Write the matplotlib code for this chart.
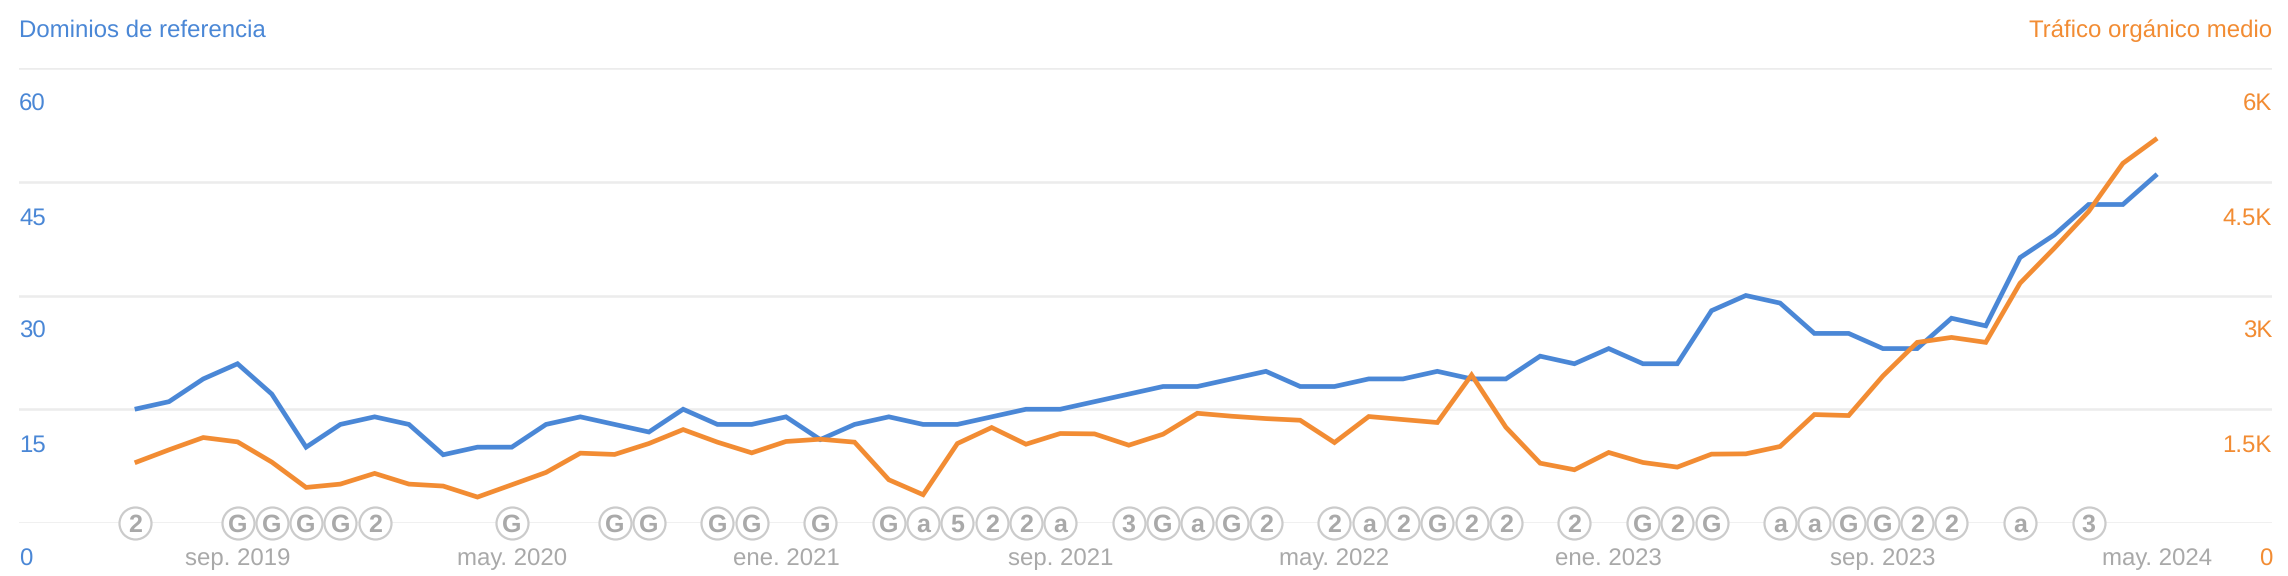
import matplotlib
matplotlib.use("Agg")
import matplotlib.pyplot as plt
from matplotlib.transforms import ScaledTranslation

plt.rcParams['font.family'] = ['Liberation Sans', 'DejaVu Sans']
plt.rcParams['text.hinting'] = 'none'
plt.rcParams['text.hinting_factor'] = 1

months = list(range(60))
referring_domains = [15, 16, 19, 21, 17, 10, 13, 14, 13, 9, 10, 10, 13, 14, 13, 12, 15, 13, 13, 14,
                     11, 13, 14, 13, 13, 14, 15, 15, 16, 17, 18, 18, 19, 20, 18, 18, 19, 19, 20, 19,
                     19, 22, 21, 23, 21, 21, 28, 30, 29, 25, 25, 23, 23, 27, 26, 35, 38, 42, 42, 46]
organic_traffic = [794, 965, 1127, 1070, 803, 469, 513, 654, 513, 487, 342, 504, 667, 921, 904, 1048, 1232, 1066, 925, 1075,
                   1105, 1066, 570, 373, 1048, 1259, 1039, 1180, 1175, 1026, 1171, 1447, 1408, 1377, 1355, 1061, 1404, 1364, 1325, 1952,
                   1263, 789, 702, 930, 798, 737, 908, 912, 1009, 1430, 1417, 1939, 2382, 2447, 2382, 3162, 3624, 4107, 4743, 5073]
left_ticks = [0, 15, 30, 45, 60]
left_labels = ['0', '15', '30', '45', '60']
right_ticks = [0, 1500, 3000, 4500, 6000]
right_labels = ['0', '1.5K', '3K', '4.5K', '6K']
x_ticks = [3, 11, 19, 27, 35, 43, 51, 59]
x_labels = ['sep. 2019', 'may. 2020', 'ene. 2021', 'sep. 2021', 'may. 2022', 'ene. 2023', 'sep. 2023', 'may. 2024']
marker_months = [0, 3, 4, 5, 6, 7, 11, 14, 15, 17, 18, 20, 22, 23, 24, 25, 26, 27, 29, 30, 31, 32, 33,
                 35, 36, 37, 38, 39, 40, 42, 44, 45, 46, 48, 49, 50, 51, 52, 53, 55, 57]
marker_labels = ['2', 'G', 'G', 'G', 'G', '2', 'G', 'G', 'G', 'G', 'G', 'G', 'G', 'a', '5', '2', '2', 'a', '3', 'G', 'a', 'G', '2',
                 '2', 'a', '2', 'G', '2', '2', '2', 'G', '2', 'G', 'a', 'a', 'G', 'G', '2', '2', 'a', '3']

BLUE = '#4a87d6'
ORANGE = '#f28c33'
GREY = '#a9a9a9'
GRID = '#ececec'
W, H = 2288, 576

fig = plt.figure(figsize=(W / 100, H / 100), dpi=100)
ax = fig.add_axes([19 / W, 1 - 523 / H, (2272 - 19) / W, (523 - 68) / H])
ax2 = ax.twinx()
ax.set_zorder(1)
ax2.set_zorder(2)
ax2.patch.set_visible(False)

ax.set_xlim(-3.375, 62.35)
ax.set_ylim(0, 60)
ax2.set_ylim(0, 6000)

for a in (ax, ax2):
    for s in a.spines.values():
        s.set_visible(False)

ax.set_yticks(left_ticks, left_labels)
ax2.set_yticks(right_ticks, right_labels)
ax.set_xticks(x_ticks, x_labels)
ax.tick_params(axis='y', length=0, pad=0, labelsize=17.3, labelcolor=BLUE)
ax2.tick_params(axis='y', length=0, pad=0, labelsize=17.3, labelcolor=ORANGE)
ax.tick_params(axis='x', length=0, pad=18, labelsize=17.3, labelcolor=GREY)
ax.grid(axis='y', color=GRID, linewidth=1.8)
ax.set_axisbelow(True)

down = ScaledTranslation(0, -34 / 100, fig.dpi_scale_trans)
for lab in ax.get_yticklabels():
    lab.set_ha('left')
    lab.set_transform(lab.get_transform() + down)
for lab in ax2.get_yticklabels():
    lab.set_ha('right')
    lab.set_transform(lab.get_transform() + down)

ax.plot(months, referring_domains, color=BLUE, linewidth=3.4, solid_joinstyle='miter', solid_capstyle='butt', zorder=3)
ax2.plot(months, organic_traffic, color=ORANGE, linewidth=3.4, solid_joinstyle='miter', solid_capstyle='butt', zorder=3)

ax2.scatter(marker_months, [0] * len(marker_months), s=530, facecolor='white', edgecolor='#cbcbcb',
            linewidth=1.6, clip_on=False, zorder=4)
for m, t in zip(marker_months, marker_labels):
    ax2.text(m, 0, t, ha='center', va='center_baseline', fontsize=18, fontweight='bold', color=GREY, zorder=5, clip_on=False)

fig.text(19 / W, 1 - 31 / H, 'Dominios de referencia', color=BLUE, fontsize=17.3, ha='left', va='center')
fig.text(2272 / W, 1 - 31 / H, 'Tráfico orgánico medio', color=ORANGE, fontsize=17.3, ha='right', va='center')

fig.savefig('out.png', dpi=100, facecolor='white')
